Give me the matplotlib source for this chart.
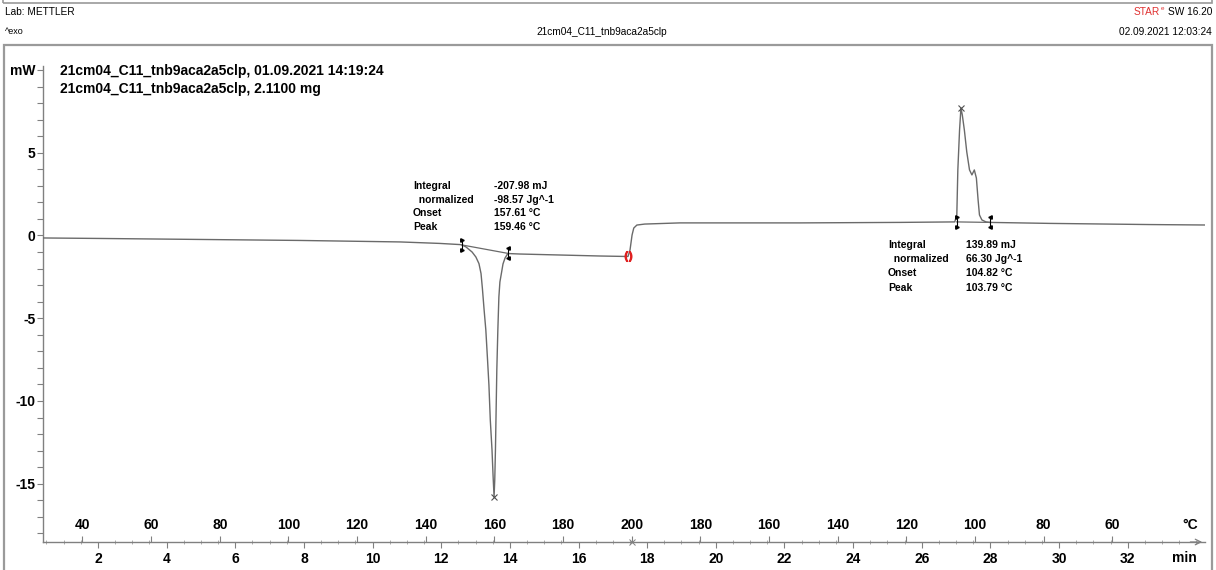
import matplotlib
matplotlib.use("Agg")
import matplotlib.pyplot as plt
import matplotlib.patches as patches
from matplotlib.ticker import MultipleLocator

plt.rcParams['font.family'] = ['Liberation Sans', 'DejaVu Sans']

# DSC curve: time in min, heat flow in mW
time_min = [0.40, 2.06, 4.97, 7.88, 10.80, 11.96, 12.55, 12.60, 12.72, 12.90,
            13.01, 13.10, 13.16, 13.20, 13.25, 13.30, 13.35, 13.39, 13.43, 13.48,
            13.51, 13.54, 13.56, 13.58, 13.60, 13.62, 13.65, 13.68, 13.71, 13.76,
            13.80, 13.86, 13.94, 14.29, 15.46, 16.62, 17.44, 17.50, 17.56, 17.61,
            17.70, 17.93, 18.95, 22.45, 25.36, 26.96, 27.02, 27.05, 27.10, 27.14,
            27.18, 27.24, 27.31, 27.39, 27.46, 27.53, 27.59, 27.64, 27.68, 27.75,
            27.87, 27.98, 29.73, 32.64, 34.45]
heat_flow = [-0.15, -0.18, -0.24, -0.30, -0.39, -0.48, -0.55, -0.57, -0.69, -1.00,
             -1.30, -1.70, -2.30, -3.20, -4.50, -5.71, -7.52, -9.03, -11.15, -12.96,
             -14.47, -15.80, -14.77, -12.96, -10.54, -8.13, -5.71, -3.72, -2.81, -2.21,
             -1.72, -1.36, -1.09, -1.12, -1.18, -1.24, -1.27, -0.88, 0.03, 0.45,
             0.63, 0.69, 0.76, 0.76, 0.79, 0.82, 1.24, 3.96, 6.37, 7.70,
             7.28, 6.37, 5.05, 3.96, 3.66, 3.96, 3.47, 2.15, 1.24, 0.94,
             0.82, 0.79, 0.73, 0.66, 0.63]

# integration limits and peaks
endo_lim_t = [12.60, 13.94]
endo_lim_mw = [-0.57, -1.08]
endo_peak = (13.54, -15.80)
exo_lim_t = [27.02, 27.98]
exo_lim_mw = [0.82, 0.79]
exo_peak = (27.14, 7.70)
segment_end = (17.44, -1.27)

endo_rows = [("Integral", "-207.98 mJ"), ("  normalized", "-98.57 Jg^-1"),
             ("Onset", "157.61 °C"), ("Peak", "159.46 °C")]
exo_rows = [("Integral", "139.89 mJ"), ("  normalized", "66.30 Jg^-1"),
            ("Onset", "104.82 °C"), ("Peak", "103.79 °C")]

# temperature program (10 K/min up to 200 °C, then down)
T0 = 24.5
rate = 10.0
Tmax = 200.0
heat_T = [40, 60, 80, 100, 120, 140, 160, 180, 200]
cool_T = [180, 160, 140, 120, 100, 80, 60]

time_ticks = list(range(2, 34, 2))

W, H = 1216, 570
fig = plt.figure(figsize=(W / 100, H / 100), dpi=100)

def ftext(x, y, s, **kw):
    kw.setdefault('va', 'center')
    return fig.text(x / W, 1 - y / H, s, **kw)

grey = '#808080'
curve_c = '#6a6a6a'

# frames
fig.add_artist(patches.Rectangle((4 / W, -0.05), 1208 / W, 1.05 - 45 / H, fill=False,
                                 ec='#9a9a9a', lw=1.6, transform=fig.transFigure))
fig.add_artist(patches.Rectangle((3 / W, 1 - 3 / H), 1209 / W, 0.1, fill=False,
                                 ec='#9a9a9a', lw=1.2, transform=fig.transFigure, clip_on=False))

# header
ftext(5, 12, "Lab: METTLER", fontsize=7.3)
ftext(5, 32, "^exo", fontsize=6.5)
ftext(602, 32, "21cm04_C11_tnb9aca2a5clp", fontsize=7.3, ha='center')
ftext(1212, 32, "02.09.2021 12:03:24", fontsize=7.3, ha='right')
ftext(1212, 12, "SW 16.20", fontsize=7.3, ha='right')
ftext(1160, 12, "STAR", fontsize=7.3, ha='right', color='#e03030')
ftext(1161, 9, "e", fontsize=4.5, ha='left', color='#e03030')

# main axes
ax = fig.add_axes([43 / W, 28 / H, (1205 - 43) / W, (542 - 66) / H])
ax.set_xlim(0.40, 34.25)
ax.set_ylim(-18.52, 10.24)
ax.patch.set_alpha(0)
for s in ['top', 'right']:
    ax.spines[s].set_visible(False)
for s in ['left', 'bottom']:
    ax.spines[s].set_color(grey)
    ax.spines[s].set_linewidth(1.0)

ax.plot(time_min, heat_flow, color=curve_c, lw=1.0, zorder=3)
ax.plot(endo_lim_t, endo_lim_mw, color=curve_c, lw=0.9, zorder=3)
ax.plot(exo_lim_t, exo_lim_mw, color=curve_c, lw=0.9, zorder=3)

for lt, lm in [(endo_lim_t, endo_lim_mw), (exo_lim_t, exo_lim_mw)]:
    for i, (t, m) in enumerate(zip(lt, lm)):
        mk = '>' if i == 0 else '<'
        ax.plot([t, t], [m - 0.35, m + 0.35], color='black', lw=0.8, zorder=4)
        ax.plot([t, t], [m - 0.3, m + 0.3], ls='none', marker=mk, ms=2.5,
                color='black', zorder=4)

ax.plot(*endo_peak, marker='x', ms=5, mew=0.8, color='#505050', zorder=4)
ax.plot(*exo_peak, marker='x', ms=5, mew=0.8, color='#505050', zorder=4)
ax.plot(*segment_end, marker='$()$', ms=7, color='#e02020', zorder=5)

# y axis
ax.set_yticks([-15, -10, -5, 0, 5, 10])
ax.set_yticklabels(['-15', '-10', '-5', '0', '5', 'mW'])
ax.yaxis.set_minor_locator(MultipleLocator(1))
ax.tick_params(axis='y', which='both', direction='out', length=4, width=0.8,
               color=grey, pad=1.5, labelsize=10)
for lb in ax.get_yticklabels():
    lb.set_fontweight('bold')

# time axis
ax.set_xticks(time_ticks)
ax.xaxis.set_minor_locator(MultipleLocator(0.5))
ax.tick_params(axis='x', which='major', direction='out', length=4, width=0.8,
               color=grey, pad=3.5, labelsize=10)
ax.tick_params(axis='x', which='minor', direction='inout', length=3.5, width=0.6,
               color='#a0a0a0')
for lb in ax.get_xticklabels():
    lb.set_fontweight('bold')

# temperature axis drawn on the same line
temp_times = [(T - T0) / rate for T in heat_T] + \
             [(Tmax - T0) / rate + (Tmax - T) / rate for T in cool_T]
temp_labels = [str(T) for T in heat_T + cool_T]
ax2 = ax.twiny()
ax2.set_xlim(ax.get_xlim())
ax2.patch.set_alpha(0)
for s in ax2.spines.values():
    s.set_visible(False)
ax2.xaxis.set_ticks_position('bottom')
ax2.set_xticks(temp_times)
ax2.set_xticklabels(temp_labels)
ax2.tick_params(axis='x', direction='in', length=4, width=0.8, color=grey,
                pad=-17, labelsize=10)
for lb in ax2.get_xticklabels():
    lb.set_fontweight('bold')
ax.plot((Tmax - T0) / rate, -18.52, marker='x', ms=4, mew=0.7, color=grey,
        clip_on=False, zorder=4)
ax.annotate('', xy=(1.0, 0), xytext=(0.985, 0), xycoords='axes fraction',
            arrowprops=dict(arrowstyle='->', color=grey, lw=0.9))

ftext(1182, 525, "°C", fontsize=10, fontweight='bold')
ftext(1172, 558, "min", fontsize=10, fontweight='bold')

# sample lines
ftext(60, 71, "21cm04_C11_tnb9aca2a5clp, 01.09.2021 14:19:24", fontsize=10, fontweight='bold')
ftext(60, 89, "21cm04_C11_tnb9aca2a5clp, 2.1100 mg", fontsize=10, fontweight='bold')

# result blocks
for i, (k, v) in enumerate(endo_rows):
    ftext(413, 186 + 13.7 * i, k, fontsize=7.5, fontweight='bold')
    ftext(494, 186 + 13.7 * i, v, fontsize=7.5, fontweight='bold')
for i, (k, v) in enumerate(exo_rows):
    ftext(888, 245 + 14.2 * i, k, fontsize=7.5, fontweight='bold')
    ftext(966, 245 + 14.2 * i, v, fontsize=7.5, fontweight='bold')

fig.savefig('out.png', dpi=100)
